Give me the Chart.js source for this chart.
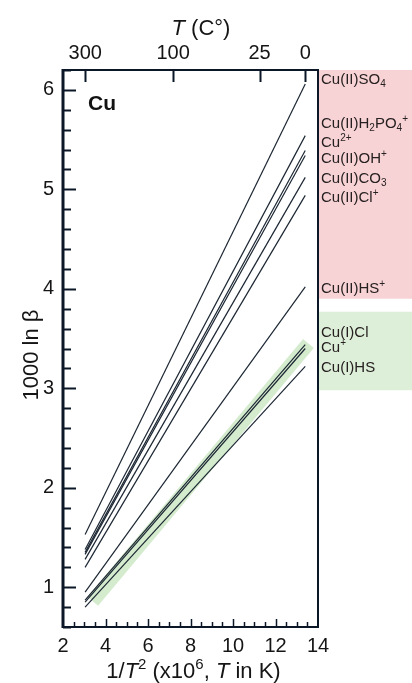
<!DOCTYPE html>
<html><head><meta charset="utf-8">
<script src="https://cdn.jsdelivr.net/npm/chart.js@4.4.1/dist/chart.umd.min.js"></script>
<style>html,body{margin:0;padding:0;background:#fff;}canvas{display:block;}</style>
</head><body>
<canvas id="c" width="412" height="683"></canvas>
<script>
// ---- data ----
const species = ['Cu(II)SO_{4}', 'Cu(II)H_{2}PO_{4}^{+}', 'Cu^{2+}', 'Cu(II)OH^{+}', 'Cu(II)CO_{3}', 'Cu(II)Cl^{+}', 'Cu(II)HS^{+}', 'Cu(I)Cl', 'Cu^{+}', 'Cu(I)HS'];
const xAt300C = 3.04;   // 1/T^2 x1e6 at 300 °C
const xAt0C = 13.40;    // 1/T^2 x1e6 at 0 °C
const valuesAt300C = [1.53, 1.38, 1.35, 1.33, 1.28, 1.20, 0.95, 0.87, 0.85, 0.80];
const valuesAt0C   = [6.06, 5.54, 5.39, 5.34, 5.12, 4.94, 4.02, 3.44, 3.40, 3.22];
const bandX = [3.40, 13.55];
const bandY = [0.86, 3.45];
const xTickValues = [2, 4, 6, 8, 10, 12, 14];
const yTickValues = [1, 2, 3, 4, 5, 6];
const topTickCelsius = [300, 100, 25, 0];

// ---- layout / style (not data) ----
const FONT = "'Liberation Sans', Arial, sans-serif";
const LAYOUT = {
  labelValues: [6.11, 5.67, 5.48, 5.32, 5.12, 4.93, 4.01, 3.57, 3.42, 3.22],
  pink: [6.2, 3.9],
  green: [3.77, 2.98]
};
const LINE_COLOR = '#1c2733';
const AXIS_COLOR = '#0b1626';

function parseRich(s) {
  const segs = [];
  let i = 0, buf = '';
  while (i < s.length) {
    if ((s[i] === '_' || s[i] === '^') && s[i + 1] === '{') {
      if (buf) { segs.push({ t: buf }); buf = ''; }
      const end = s.indexOf('}', i);
      segs.push({ t: s.slice(i + 2, end), sub: s[i] === '_', sup: s[i] === '^' });
      i = end + 1;
    } else { buf += s[i]; i++; }
  }
  if (buf) segs.push({ t: buf });
  return segs;
}
function segFont(seg, size, weight) {
  const sz = (seg.sub || seg.sup) ? Math.round(size * 0.68) : size;
  return (seg.i ? 'italic ' : '') + (weight || 'normal') + ' ' + sz + 'px ' + FONT;
}
function measureRich(ctx, segs, size, weight) {
  let w = 0;
  segs.forEach(s => { ctx.font = segFont(s, size, weight); w += ctx.measureText(s.t).width; });
  return w;
}
function drawRich(ctx, segs, x, y, size, align, weight) {
  const total = measureRich(ctx, segs, size, weight);
  let cx = align === 'center' ? x - total / 2 : x;
  ctx.textBaseline = 'alphabetic';
  ctx.textAlign = 'left';
  const base = y + size * 0.35;
  segs.forEach(s => {
    ctx.font = segFont(s, size, weight);
    let yy = base;
    if (s.sup) yy = base - size * 0.38;
    if (s.sub) yy = base + size * 0.2;
    ctx.fillText(s.t, cx, yy);
    cx += ctx.measureText(s.t).width;
  });
}

const decor = {
  id: 'decor',
  afterDraw(chart) {
    const c = chart.ctx, a = chart.chartArea;
    const xs = chart.scales.x, ys = chart.scales.y, xt = chart.scales.x2;
    c.save();
    // side panels
    const p0 = ys.getPixelForValue(LAYOUT.pink[0]), p1 = ys.getPixelForValue(LAYOUT.pink[1]);
    c.fillStyle = '#f8d3d6';
    c.fillRect(a.right + 1, p0, chart.width - a.right - 1, p1 - p0);
    const g0 = ys.getPixelForValue(LAYOUT.green[0]), g1 = ys.getPixelForValue(LAYOUT.green[1]);
    c.fillStyle = '#ddefd9';
    c.fillRect(a.right + 1, g0, chart.width - a.right - 1, g1 - g0);
    // species labels
    c.fillStyle = '#262020';
    species.forEach((s, i) => {
      drawRich(c, parseRich(s), a.right + 3, ys.getPixelForValue(LAYOUT.labelValues[i]), 15, 'left');
    });
    // inward ticks
    c.strokeStyle = AXIS_COLOR;
    for (let k = 0; k <= 28; k++) {
      const v = 0.6 + k * 0.2;
      const major = Math.abs(v - Math.round(v)) < 1e-6;
      const py = Math.round(ys.getPixelForValue(v)) + 0.5;
      c.lineWidth = 2;
      c.beginPath(); c.moveTo(a.left, py); c.lineTo(a.left + (major ? 13 : 8), py); c.stroke();
    }
    for (let k = 1; k < 24; k++) {
      const v = 2 + k * 0.5;
      const major = k % 4 === 0;
      const px = Math.round(xs.getPixelForValue(v)) + 0.5;
      c.lineWidth = 1.5;
      c.beginPath(); c.moveTo(px, a.bottom); c.lineTo(px, a.bottom - (major ? 8 : 5)); c.stroke();
    }
    xt.ticks.forEach(t => {
      const px = Math.round(xt.getPixelForValue(t.value)) + 0.5;
      c.lineWidth = 2;
      c.beginPath(); c.moveTo(px, a.top); c.lineTo(px, a.top + 12); c.stroke();
    });
    // frame
    c.lineWidth = 2;
    c.strokeRect(a.left, a.top, a.right - a.left, a.bottom - a.top);
    c.lineWidth = 3;
    c.beginPath(); c.moveTo(a.left, a.top - 1); c.lineTo(a.left, a.bottom + 1); c.stroke();
    // panel label "Cu"
    c.fillStyle = '#111';
    drawRich(c, [{ t: 'Cu' }], a.left + 25, a.top + 33, 21, 'left', 'bold');
    // axis titles
    c.fillStyle = '#151515';
    drawRich(c, [{ t: '1/' }, { t: 'T', i: 1 }, { t: '2', sup: 1 }, { t: ' (x10' }, { t: '6', sup: 1 }, { t: ', ' }, { t: 'T', i: 1 }, { t: ' in K)' }],
      (a.left + a.right) / 2 + 3, 670, 22, 'center');
    drawRich(c, [{ t: 'T', i: 1 }, { t: ' (C°)' }], 201, 27, 22, 'center');
    c.translate(30, 355);
    c.rotate(-Math.PI / 2);
    drawRich(c, [{ t: '1000 ln β' }], 0, 0, 22, 'center');
    c.restore();
  }
};

const lineSets = species.map((s, i) => ({
  label: s,
  data: [{ x: xAt300C, y: valuesAt300C[i] }, { x: xAt0C, y: valuesAt0C[i] }],
  borderColor: LINE_COLOR,
  borderWidth: 1.2,
  pointRadius: 0,
  order: 0
}));
const bandSet = {
  label: 'Cu(I) band',
  data: bandX.map((x, i) => ({ x, y: bandY[i] })),
  borderColor: '#d4ebce',
  borderWidth: 14,
  borderCapStyle: 'butt',
  pointRadius: 0,
  order: 5
};

const tickFont = { size: 20, family: FONT };
new Chart(document.getElementById('c'), {
  type: 'line',
  data: { datasets: [...lineSets, bandSet] },
  options: {
    responsive: false,
    animation: false,
    devicePixelRatio: 1,
    layout: { padding: { left: 0, right: 94, top: 0, bottom: 0 } },
    plugins: { legend: { display: false }, tooltip: { enabled: false } },
    scales: {
      x: {
        type: 'linear', position: 'bottom', min: 2, max: 14,
        afterBuildTicks: s => { s.ticks = xTickValues.map(v => ({ value: v })); },
        afterFit: s => { s.height = 56; },
        grid: { display: false, drawTicks: false },
        border: { display: false },
        ticks: { font: tickFont, color: '#151515', padding: 7, maxRotation: 0, autoSkip: false }
      },
      x2: {
        type: 'linear', position: 'top', min: 2, max: 14,
        afterBuildTicks: s => { s.ticks = topTickCelsius.map(cdeg => ({ value: 1e6 / Math.pow(cdeg + 273.15, 2) })); },
        afterFit: s => { s.height = 70; },
        grid: { display: false, drawTicks: false },
        border: { display: false },
        ticks: { font: tickFont, color: '#151515', padding: 5, maxRotation: 0, autoSkip: false,
          callback: (v, i) => String(topTickCelsius[i]) }
      },
      y: {
        type: 'linear', min: 0.6, max: 6.2,
        afterBuildTicks: s => { s.ticks = yTickValues.map(v => ({ value: v })); },
        afterFit: s => { s.width = 63; },
        grid: { display: false, drawTicks: false },
        border: { display: false },
        ticks: { font: tickFont, color: '#151515', padding: 9, autoSkip: false }
      }
    }
  },
  plugins: [decor]
});
</script>
</body></html>
